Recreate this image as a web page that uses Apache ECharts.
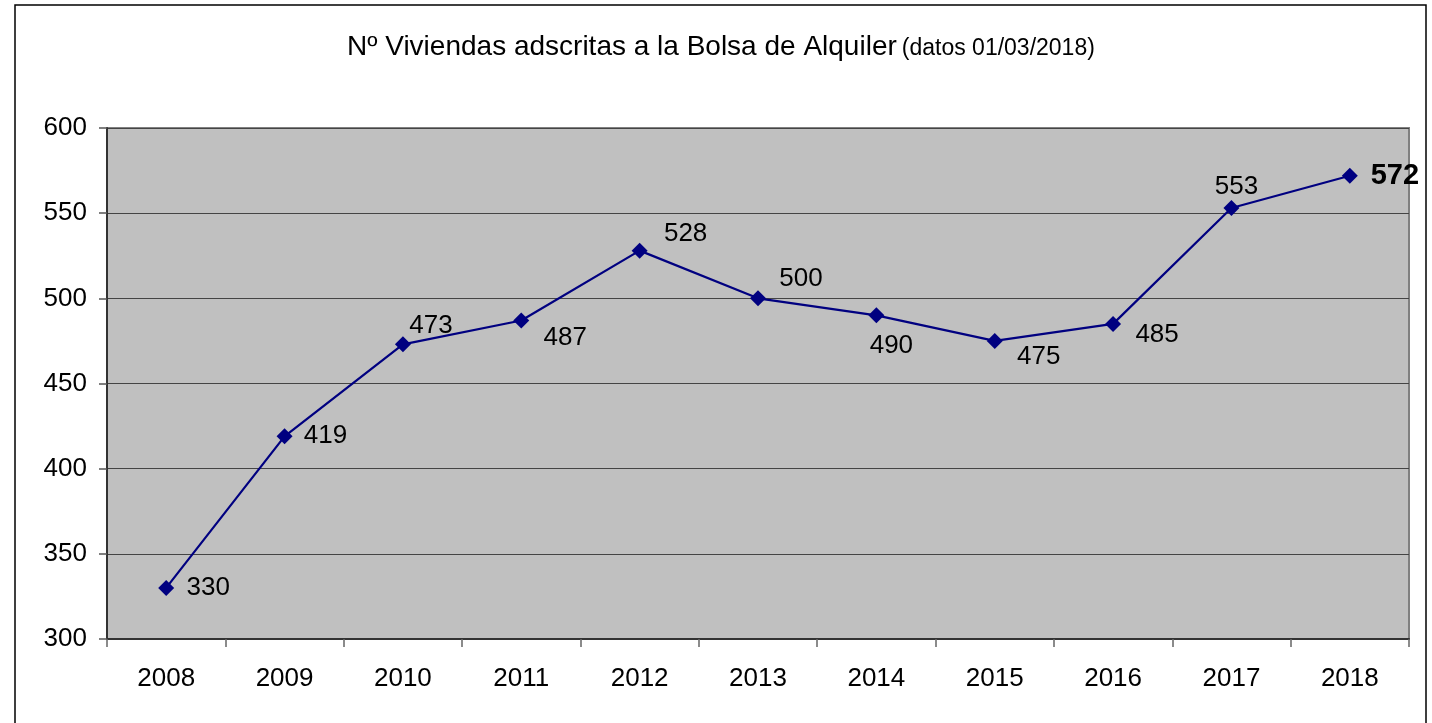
<!DOCTYPE html>
<html>
<head>
<meta charset="utf-8">
<script src="https://cdn.jsdelivr.net/npm/echarts@6/dist/echarts.min.js"></script>
<style>
html,body{margin:0;padding:0;background:#fff;}
#main{width:1432px;height:723px;}
</style>
</head>
<body>
<div id="main"></div>
<script>
const years = ['2008','2009','2010','2011','2012','2013','2014','2015','2016','2017','2018'];
const viviendas = [330, 419, 473, 487, 528, 500, 490, 475, 485, 553, 572];
const yTicks = [300, 350, 400, 450, 500, 550, 600];
const titleMain = 'Nº Viviendas adscritas a la Bolsa de Alquiler';
const titleSub = '(datos 01/03/2018)';

// label offsets (label centre relative to point), layout only
const labelOffsets = [[42,0],[41,0],[28,-18],[44,17],[46,-17],[43,-20],[15,30],[44,16],[44,11],[5,-21],[45,0]];

const chart = echarts.init(document.getElementById('main'));
const font = 'Liberation Sans, Arial, sans-serif';

const seriesData = viviendas.map((v, i) => {
  const last = i === viviendas.length - 1;
  return {
    value: v,
    label: {
      show: true,
      position: 'inside',
      align: 'center',
      verticalAlign: 'middle',
      offset: labelOffsets[i],
      color: '#000',
      fontFamily: font,
      fontSize: last ? 29 : 26,
      fontWeight: last ? 'bold' : 'normal'
    }
  };
});

chart.setOption({
  animation: false,
  backgroundColor: '#fff',
  title: {
    text: '{a|' + titleMain + '} {b|' + titleSub + '}',
    left: 342,
    top: 26,
    textStyle: {
      fontWeight: 'normal',
      rich: {
        a: { fontFamily: font, fontSize: 28, fontWeight: 'normal', color: '#000', lineHeight: 32 },
        b: { fontFamily: font, fontSize: 23, fontWeight: 'normal', color: '#000', lineHeight: 32, padding: [3,0,0,0] }
      }
    }
  },
  graphic: [{
    type: 'rect',
    shape: { x: 15, y: 5, width: 1411, height: 740 },
    style: { fill: 'none', stroke: '#000', lineWidth: 1.5 },
    z: 100,
    silent: true
  }],
  grid: {
    left: 107, right: 23, top: 128, bottom: 84,
    show: true,
    backgroundColor: '#C0C0C0',
    borderColor: '#808080',
    borderWidth: 2
  },
  xAxis: {
    type: 'category',
    data: years,
    boundaryGap: true,
    axisLine: { show: true, lineStyle: { color: '#333', width: 2 } },
    axisTick: { show: true, length: 8, lineStyle: { color: '#666', width: 1.5 } },
    axisLabel: { color: '#000', fontFamily: font, fontSize: 26, margin: 27 },
    splitLine: { show: false }
  },
  yAxis: {
    type: 'value',
    min: yTicks[0],
    max: yTicks[yTicks.length - 1],
    interval: 50,
    axisLine: { show: true, lineStyle: { color: '#333', width: 2 } },
    axisTick: { show: true, length: 8, lineStyle: { color: '#555', width: 1.5 } },
    axisLabel: { color: '#000', fontFamily: font, fontSize: 26, margin: 20 },
    splitLine: { show: true, lineStyle: { color: '#444', width: 1.2 } }
  },
  series: [{
    type: 'line',
    data: seriesData,
    symbol: 'diamond',
    symbolSize: 16,
    lineStyle: { color: '#000080', width: 2.2 },
    itemStyle: { color: '#000080' },
    z: 5
  }]
});
</script>
</body>
</html>
